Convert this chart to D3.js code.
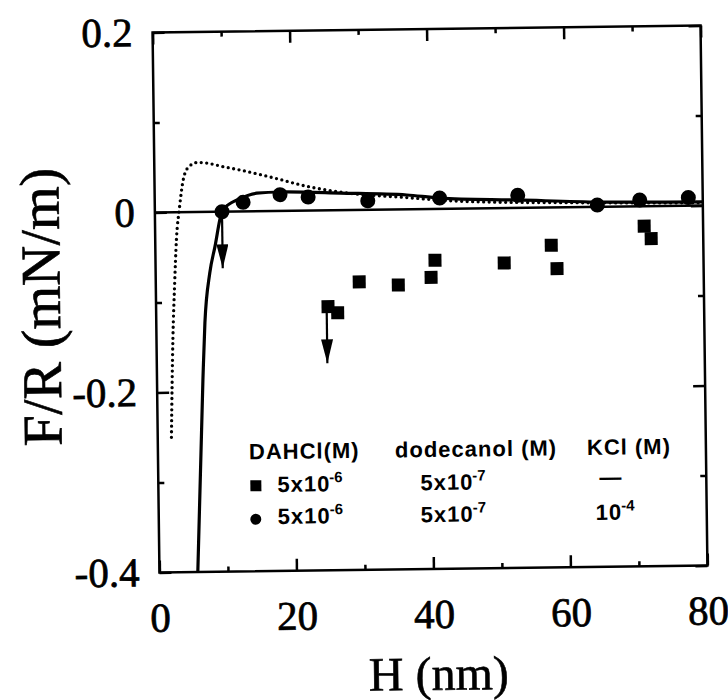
<!DOCTYPE html>
<html>
<head>
<meta charset="utf-8">
<script src="https://d3js.org/d3.v7.min.js"></script>
<style>
  body { margin: 0; background: #fff; }
  svg { display: block; }
  .serif { font-family: "Liberation Serif", "Times New Roman", serif; fill: #000; stroke: #000; stroke-width: 0.6px; }
  .axis line { stroke: #000; stroke-width: 2.5px; }
  .legend text { font-family: "Liberation Sans", Arial, sans-serif; font-weight: bold; font-size: 22px; letter-spacing: 1px; fill: #000; }
</style>
</head>
<body>
<div id="chart"></div>
<script>
// F/R vs H, DAHCl + dodecanol, with and without KCl
const squareH = [25.1, 26.5, 29.7, 35.4, 40.2, 40.8, 50.9, 57.8, 58.6, 71.4, 72.4];
const squareF = [-0.107, -0.114, -0.080, -0.084, -0.076, -0.057, -0.061, -0.042, -0.068, -0.022, -0.036];

const circleH = [9.8, 12.9, 18.3, 22.4, 31.1, 41.6, 53.0, 64.6, 70.8, 77.9];
const circleF = [0.000, 0.010, 0.018, 0.015, 0.010, 0.012, 0.014, 0.002, 0.007, 0.009];

// solid fitted curve
const fitH = [5.6, 6.7, 7.1, 7.9, 8.7, 9.8, 10.8, 12.0, 14.9, 18.3, 27.1, 36.8, 41.6, 52.9, 65.0, 80.0];
const fitF = [-0.4, -0.187, -0.123, -0.068, -0.039, 0.0, 0.008, 0.0128, 0.020, 0.021, 0.019, 0.0159, 0.012, 0.0088, 0.0053, 0.004];

// dotted curve
const dotH = [2.0, 2.2, 2.4, 2.75, 3.1, 3.6, 4.2, 5.0, 6.3, 7.8, 10.0, 12.5, 17.3, 22.2, 27.1, 36.8, 45.0, 61.0, 80.0];
const dotF = [-0.25, -0.19, -0.14, -0.08, -0.03, 0.005, 0.036, 0.050, 0.055, 0.054, 0.050, 0.046, 0.037, 0.027, 0.020, 0.013, 0.008, 0.005, 0.003];

// jump-in arrows
const arrowH = [9.8, 24.9];
const arrowFrom = [0.0, -0.107];
const arrowTo = [-0.063, -0.17];

const xMajorTicks = [0, 20, 40, 60, 80];
const xMinorTicks = [10, 30, 50, 70];
const yMajorTicks = [0.2, 0, -0.2, -0.4];
const yMinorTicks = [0.1, -0.1, -0.3];

const legendHeaders = ["DAHCl(M)", "dodecanol (M)", "KCl (M)"];
const legendMarkers = ["square", "circle"];
const legendDahcl = [["5x10", "-6"], ["5x10", "-6"]];
const legendDodecanol = [["5x10", "-7"], ["5x10", "-7"]];
const legendKcl = [["—", ""], ["10", "-4"]];

const W = 728, H = 700;
const margin = { top: 29, left: 156 };
const width = 548, height = 540;
const serifFont = '"Liberation Serif", "Times New Roman", serif';

const svg = d3.select("#chart").append("svg")
    .attr("width", W)
    .attr("height", H)
    .style("background", "#fff");

// the scanned figure sits slightly tilted
const root = svg.append("g")
    .attr("transform", `rotate(-0.73, ${margin.left + width / 2}, ${margin.top + height / 2})`);

const plot = root.append("g")
    .attr("transform", `translate(${margin.left}, ${margin.top})`);

const x = d3.scaleLinear().domain([0, 80]).range([0, width]);
const y = d3.scaleLinear().domain([-0.4, 0.2]).range([height, 0]);

const fmt = d => d === 0 ? "0" : d3.format(".1f")(d).replace("\u2212", "-");

function addAxis(axis, transform) {
    plot.append("g")
        .attr("class", "axis")
        .attr("transform", transform || null)
        .call(axis)
        .call(g => g.select(".domain").remove())
        .call(g => g.selectAll("text")
            .style("font-family", serifFont)
            .style("font-size", "41px")
            .style("fill", "#000")
            .style("stroke", "#000")
            .style("stroke-width", "0.7px"));
}

addAxis(d3.axisLeft(y).tickValues(yMajorTicks).tickSizeInner(-12).tickSizeOuter(0).tickPadding(20).tickFormat(fmt));
addAxis(d3.axisLeft(y).tickValues(yMinorTicks).tickSizeInner(-6).tickSizeOuter(0).tickFormat(""));
addAxis(d3.axisRight(y).tickValues(yMajorTicks).tickSizeInner(-12).tickSizeOuter(0).tickFormat(""), `translate(${width},0)`);
addAxis(d3.axisRight(y).tickValues(yMinorTicks).tickSizeInner(-6).tickSizeOuter(0).tickFormat(""), `translate(${width},0)`);
addAxis(d3.axisBottom(x).tickValues(xMajorTicks).tickSizeInner(-12).tickSizeOuter(0).tickPadding(30).tickFormat(d3.format("d")), `translate(0,${height})`);
addAxis(d3.axisBottom(x).tickValues(xMinorTicks).tickSizeInner(-5).tickSizeOuter(0).tickFormat(""), `translate(0,${height})`);
addAxis(d3.axisTop(x).tickValues(xMajorTicks).tickSizeInner(-12).tickSizeOuter(0).tickFormat(""));
addAxis(d3.axisTop(x).tickValues(xMinorTicks).tickSizeInner(-5).tickSizeOuter(0).tickFormat(""));

// frame
plot.append("rect")
    .attr("width", width)
    .attr("height", height)
    .attr("fill", "none")
    .attr("stroke", "#000")
    .attr("stroke-width", 2.5);

// zero line
plot.append("line")
    .attr("x1", x(0)).attr("x2", x(80))
    .attr("y1", y(0)).attr("y2", y(0))
    .attr("stroke", "#000")
    .attr("stroke-width", 2.5);

plot.append("clipPath").attr("id", "clip")
    .append("rect").attr("width", width).attr("height", height);

const line = d3.line()
    .x(d => x(d[0]))
    .y(d => y(d[1]))
    .curve(d3.curveMonotoneX);

plot.append("path")
    .datum(d3.zip(dotH, dotF))
    .attr("clip-path", "url(#clip)")
    .attr("d", line)
    .attr("fill", "none")
    .attr("stroke", "#000")
    .attr("stroke-width", 3.3)
    .attr("stroke-linecap", "round")
    .attr("stroke-dasharray", "0 5.5");

plot.append("path")
    .datum(d3.zip(fitH, fitF))
    .attr("clip-path", "url(#clip)")
    .attr("d", line)
    .attr("fill", "none")
    .attr("stroke", "#000")
    .attr("stroke-width", 3.2);

plot.selectAll(".sq")
    .data(d3.zip(squareH, squareF))
    .enter().append("rect")
    .attr("class", "sq")
    .attr("x", d => x(d[0]) - 6.5)
    .attr("y", d => y(d[1]) - 6.5)
    .attr("width", 13)
    .attr("height", 13)
    .attr("fill", "#000");

plot.selectAll(".dot")
    .data(d3.zip(circleH, circleF))
    .enter().append("circle")
    .attr("class", "dot")
    .attr("cx", d => x(d[0]))
    .attr("cy", d => y(d[1]))
    .attr("r", 7.5)
    .attr("fill", "#000");

// arrows
svg.append("defs").append("marker")
    .attr("id", "arrowhead")
    .attr("viewBox", "0 0 24 12")
    .attr("markerUnits", "userSpaceOnUse")
    .attr("markerWidth", 24)
    .attr("markerHeight", 12)
    .attr("refX", 24)
    .attr("refY", 6)
    .attr("orient", "auto")
    .append("path")
    .attr("d", "M0,0 L24,6 L0,12 Z")
    .attr("fill", "#000");

plot.selectAll(".arrow")
    .data(d3.range(arrowH.length))
    .enter().append("line")
    .attr("class", "arrow")
    .attr("x1", i => x(arrowH[i]))
    .attr("x2", i => x(arrowH[i]))
    .attr("y1", i => y(arrowFrom[i]))
    .attr("y2", i => y(arrowTo[i]))
    .attr("stroke", "#000")
    .attr("stroke-width", 2.2)
    .attr("marker-end", "url(#arrowhead)");

// axis titles
root.append("text")
    .attr("class", "serif")
    .attr("x", margin.left + width / 2 + 4)
    .attr("y", 690)
    .attr("text-anchor", "middle")
    .attr("font-size", 48)
    .text("H (nm)");

root.append("text")
    .attr("class", "serif")
    .attr("transform", `translate(60, ${margin.top + height / 2 + 3}) rotate(-90)`)
    .attr("text-anchor", "middle")
    .attr("font-size", 56)
    .text("F/R (mN/m)");

// legend
const legend = root.append("g")
    .attr("class", "legend")
    .attr("transform", "translate(247, 457)");

const headerX = [0, 146, 338];
legend.selectAll(".hdr")
    .data(legendHeaders)
    .enter().append("text")
    .attr("class", "hdr")
    .attr("x", (d, i) => headerX[i])
    .attr("y", 0)
    .text(d => d);

function powerText(g, xPos, yPos, parts) {
    const t = g.append("text").attr("x", xPos).attr("y", yPos);
    t.append("tspan").text(parts[0]);
    if (parts[1]) {
        t.append("tspan")
            .attr("dy", -9)
            .attr("dx", -1)
            .attr("font-size", 15)
            .attr("letter-spacing", 0)
            .text(parts[1]);
    }
}

legendMarkers.forEach((m, i) => {
    const rowY = 33 + i * 32;
    if (m === "square") {
        legend.append("rect")
            .attr("x", 1).attr("y", rowY - 12)
            .attr("width", 11).attr("height", 11)
            .attr("fill", "#000");
    } else {
        legend.append("circle")
            .attr("cx", 6).attr("cy", rowY - 5)
            .attr("r", 5.5)
            .attr("fill", "#000");
    }
    powerText(legend, 28, rowY, legendDahcl[i]);
    powerText(legend, 171, rowY, legendDodecanol[i]);
    if (legendKcl[i][1]) {
        powerText(legend, 346, rowY, legendKcl[i]);
    } else {
        legend.append("text")
            .attr("x", 350).attr("y", rowY - 3)
            .text(legendKcl[i][0]);
    }
});
</script>
</body>
</html>
